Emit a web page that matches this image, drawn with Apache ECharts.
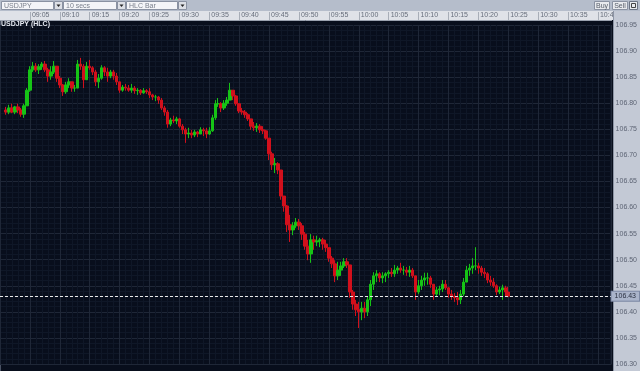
<!DOCTYPE html>
<html><head><meta charset="utf-8">
<script src="https://cdn.jsdelivr.net/npm/echarts@6/dist/echarts.min.js"></script>
<style>html,body{margin:0;padding:0;background:#080e1c;overflow:hidden}#c{width:640px;height:371px}</style>
</head><body><div id="c"></div>
<script>
// ---- data ----
const symbolName = 'USDJPY (HLC)';
const toolbarItems = ['USDJPY', '10 secs', 'HLC Bar'];
const firstBarSec = 60;      // seconds after 09:00 of first bar
const barStepSec = 30;       // bar spacing in seconds
const firstOpen = 106.787;
const highs = [
106.793,106.797,106.799,106.795,106.799,106.791,106.799,106.829,106.871,106.879,
106.877,106.875,106.879,106.881,106.868,106.871,106.881,106.868,106.852,106.837,
106.841,106.848,106.841,106.835,106.883,106.887,106.875,106.879,106.883,106.871,
106.864,106.856,106.873,106.871,106.868,106.864,106.864,106.858,106.837,106.835,
106.837,106.835,106.837,106.833,106.829,106.827,106.829,106.827,106.829,106.818,
106.816,106.814,106.810,106.795,106.787,106.772,106.776,106.774,106.772,106.760,
106.753,106.753,106.749,106.749,106.747,106.754,106.753,106.753,106.754,106.778,
106.806,106.810,106.802,106.806,106.812,106.839,106.825,106.816,106.800,106.791,
106.787,106.781,106.770,106.764,106.762,106.760,106.756,106.749,106.733,106.707,
106.695,106.687,106.672,106.622,106.605,106.586,106.572,106.580,106.578,106.570,
106.553,106.538,106.549,106.546,106.546,106.542,106.542,106.538,106.523,106.507,
106.499,106.496,106.496,106.503,106.503,106.490,106.442,106.423,106.419,106.419,
106.419,106.430,106.461,106.476,106.480,106.476,106.476,106.476,106.480,106.484,
106.490,106.488,106.494,106.488,106.486,106.488,106.484,106.469,106.461,106.469,
106.475,106.475,106.469,106.453,106.448,106.450,106.461,106.461,106.448,106.442,
106.436,106.438,106.442,106.465,106.488,106.492,106.503,106.524,106.494,106.488,
106.484,106.476,106.469,106.465,106.453,106.448,106.452,106.450,106.448
];
const lows = [
106.778,106.779,106.781,106.779,106.781,106.774,106.772,106.795,106.822,106.860,
106.860,106.856,106.864,106.860,106.841,106.845,106.856,106.841,106.829,106.814,
106.818,106.829,106.822,106.822,106.829,106.864,106.829,106.848,106.864,106.854,
106.833,106.829,106.845,106.852,106.841,106.848,106.845,106.835,106.820,106.822,
106.824,106.822,106.820,106.818,106.816,106.816,106.818,106.818,106.810,106.806,
106.804,106.799,106.787,106.776,106.753,106.756,106.762,106.760,106.753,106.741,
106.724,106.733,106.733,106.735,106.735,106.741,106.737,106.733,106.739,106.745,
106.768,106.793,106.783,106.787,106.795,106.806,106.806,106.795,106.781,106.778,
106.772,106.766,106.749,106.747,106.745,106.743,106.741,106.730,106.691,106.672,
106.666,106.664,106.615,106.592,106.553,106.534,106.547,106.561,106.557,106.538,
106.519,106.499,106.494,106.519,106.526,106.524,106.519,106.515,106.496,106.484,
106.457,106.461,106.469,106.484,106.484,106.427,106.404,106.392,106.369,106.384,
106.388,106.392,106.411,106.442,106.457,106.457,106.455,106.457,106.465,106.467,
106.467,106.473,106.475,106.471,106.469,106.467,106.465,106.423,106.434,106.442,
106.450,106.452,106.446,106.423,106.429,106.432,106.438,106.442,106.427,106.423,
106.419,106.413,106.415,106.430,106.457,106.469,106.473,106.480,106.473,106.469,
106.465,106.455,106.450,106.446,106.432,106.434,106.423,106.430,106.428
];
const closes = [
106.783,106.791,106.783,106.793,106.787,106.779,106.795,106.825,106.864,106.871,
106.864,106.870,106.875,106.864,106.852,106.860,106.871,106.848,106.835,106.822,
106.835,106.841,106.829,106.829,106.875,106.871,106.845,106.871,106.868,106.860,
106.841,106.848,106.868,106.860,106.852,106.860,106.852,106.841,106.825,106.831,
106.829,106.825,106.829,106.824,106.825,106.820,106.824,106.822,106.816,106.812,
106.812,106.806,106.791,106.783,106.760,106.768,106.766,106.770,106.756,106.749,
106.741,106.743,106.739,106.745,106.741,106.749,106.747,106.741,106.747,106.772,
106.799,106.799,106.791,106.800,106.806,106.825,106.814,106.799,106.785,106.783,
106.778,106.770,106.756,106.753,106.756,106.749,106.747,106.733,106.703,106.682,
106.684,106.672,106.622,106.603,106.567,106.557,106.565,106.572,106.565,106.549,
106.526,106.511,106.538,106.534,106.536,106.538,106.530,106.523,106.503,106.492,
106.469,106.480,106.488,106.496,106.490,106.438,106.415,106.404,106.400,106.407,
106.400,106.423,106.453,106.469,106.473,106.465,106.469,106.473,106.476,106.473,
106.480,106.484,106.480,106.480,106.476,106.480,106.469,106.438,106.450,106.461,
106.465,106.465,106.453,106.434,106.442,106.444,106.453,106.446,106.434,106.430,
106.427,106.423,106.434,106.457,106.480,106.484,106.488,106.488,106.484,106.476,
106.473,106.461,106.457,106.450,106.438,106.442,106.446,106.438,106.430
];
const priceMin = 106.30, priceMax = 106.95, priceStep = 0.05;
const timeMin = 0, timeMax = 6137, timeStep = 300; // seconds after 09:00

// ---- build ----
const opens = closes.map((c, i) => i === 0 ? firstOpen : closes[i - 1]);
const barData = closes.map((c, i) => [firstBarSec + barStepSec * i, opens[i], c, lows[i], highs[i]]);
const lastPrice = closes[closes.length - 1];

function fmtTime(v) {
  const m = Math.round(v / 60);
  const h = 9 + Math.floor(m / 60), mm = m % 60;
  return (h < 10 ? '0' : '') + h + ':' + (mm < 10 ? '0' : '') + mm;
}

const FONT = 'Liberation Sans, Arial, sans-serif';
const chrome = [];
chrome.push({type:'rect', z:-10, shape:{x:0,y:0,width:640,height:11}, style:{fill:'#b5bdcb'}});
chrome.push({type:'rect', z:-10, shape:{x:0,y:11,width:613,height:9}, style:{fill:'#dfe2e8'}});
chrome.push({type:'rect', z:5, shape:{x:613,y:11,width:27,height:9}, style:{fill:'#c3c9d5'}});
chrome.push({type:'rect', z:-10, shape:{x:613,y:20,width:27,height:351}, style:{fill:'#c3c9d5'}});
chrome.push({type:'line', z:5, shape:{x1:613.5,y1:11,x2:613.5,y2:371}, style:{stroke:'#8c94a4',lineWidth:1}});
chrome.push({type:'line', z:-9, shape:{x1:0.5,y1:20,x2:0.5,y2:371}, style:{stroke:'#4a5264',lineWidth:1}});
const ddPos = [[1,52],[63,53],[126,51]];
toolbarItems.forEach((t, k) => {
  const [x, w] = ddPos[k];
  chrome.push({type:'rect', z:-8, shape:{x:x+0.5,y:1.5,width:w,height:8}, style:{fill:'#f4f5f8',stroke:'#8a92a2',lineWidth:1}});
  chrome.push({type:'text', z:-7, x:x+3, y:6, style:{text:t, fill:'#7a808c', font:'7px '+FONT, verticalAlign:'middle'}});
  const bx = x + w + 1;
  chrome.push({type:'rect', z:-8, shape:{x:bx+0.5,y:1.5,width:8,height:8}, style:{fill:'#dde0e6',stroke:'#8a92a2',lineWidth:1}});
  chrome.push({type:'polygon', z:-7, shape:{points:[[bx+2.5,4.5],[bx+6.5,4.5],[bx+4.5,7]]}, style:{fill:'#222'}});
});
[['Buy',594,15],['Sell',612,15]].forEach(([t,x,w]) => {
  chrome.push({type:'rect', z:-8, shape:{x:x+0.5,y:1.5,width:w,height:8}, style:{fill:'#e8eaee',stroke:'#8a92a2',lineWidth:1}});
  chrome.push({type:'text', z:-7, x:x+w/2+0.5, y:6, style:{text:t, fill:'#555c68', font:'7px '+FONT, align:'center', verticalAlign:'middle'}});
});
chrome.push({type:'rect', z:-8, shape:{x:629.5,y:1.5,width:8,height:8}, style:{fill:'#e8eaee',stroke:'#6d7585',lineWidth:1}});
chrome.push({type:'rect', z:-7, shape:{x:631.5,y:3.5,width:4,height:4}, style:{fill:'none',stroke:'#444',lineWidth:1}});
chrome.push({type:'text', z:10, x:1, y:21, style:{text:symbolName, fill:'#e6eaf2', font:'bold 7px '+FONT, verticalAlign:'top'}});

const chart = echarts.init(document.getElementById('c'), null, {renderer:'canvas'});
chart.setOption({
  animation:false,
  backgroundColor:'#080e1c',
  textStyle:{fontFamily:FONT},
  grid:{left:-6, right:27, top:25, bottom:7, containLabel:false},
  graphic: chrome,
  xAxis:{
    type:'value', position:'top', offset:5, min:timeMin, max:timeMax, interval:timeStep,
    axisLine:{show:true, lineStyle:{color:'#9aa1ae'}},
    axisTick:{show:true, length:8, lineStyle:{color:'#a8aeb8'}},
    axisLabel:{show:true, align:'left', verticalAlign:'bottom', margin:1, padding:[0,0,0,2],
      fontSize:7, color:'#666d7a', formatter:fmtTime, showMaxLabel:false, showMinLabel:false, hideOverlap:false},
    splitLine:{show:true, lineStyle:{color:'#1f2737'}},
    minorTick:{show:false, splitNumber:5},
    minorSplitLine:{show:true, lineStyle:{color:'#0f1727'}}
  },
  yAxis:{
    type:'value', position:'right', min:priceMin, max:priceMax, interval:priceStep,
    axisLine:{show:false}, axisTick:{show:false},
    axisLabel:{color:'#5d6474', fontSize:7, margin:4, align:'left', formatter:v => v.toFixed(2)},
    splitLine:{show:true, lineStyle:{color:'#1f2737'}},
    minorTick:{show:false, splitNumber:5},
    minorSplitLine:{show:true, lineStyle:{color:'#0f1727'}}
  },
  series:[{
    type:'candlestick', data:barData, encode:{x:0, y:[1,2,3,4]},
    barWidth:3,
    itemStyle:{color:'#16c416', color0:'#d2101c', borderColor:'#16c416', borderColor0:'#d2101c', borderWidth:1},
    markLine:{
      silent:true, symbol:['none','none'],
      lineStyle:{color:'#e8e8e8', type:[3,2], width:1},
      label:{show:true, position:'end', distance:0, formatter:p => Number(p.value).toFixed(2),
        fontSize:7, color:'#2a3040', backgroundColor:'#aab4ca', borderColor:'#7c88a4', borderWidth:1, padding:[1,3,1,3]},
      data:[{yAxis:lastPrice}]
    }
  }]
});
</script></body></html>
